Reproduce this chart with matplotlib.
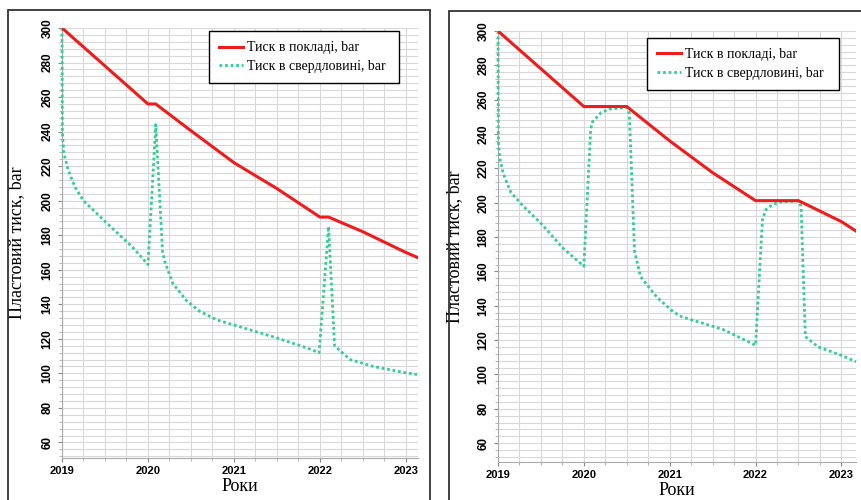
import matplotlib
matplotlib.use("Agg")
import matplotlib.pyplot as plt
from matplotlib.patches import Rectangle
from matplotlib.ticker import MultipleLocator

# left chart
res_years_a = [2019.0, 2019.5, 2020.0, 2020.09, 2020.5, 2021.0, 2021.5, 2022.0, 2022.1, 2022.5, 2023.0, 2023.14]
res_a = [300, 278, 256, 256, 240.5, 222, 207, 190.5, 190.5, 182, 170, 167]
well_years_a = [2019.0, 2019.004, 2019.02, 2019.07, 2019.15, 2019.25, 2019.5, 2019.83, 2020.0,
                2020.09, 2020.17, 2020.2, 2020.29, 2020.45, 2020.6, 2020.8, 2021.0, 2021.5,
                2021.85, 2021.99, 2022.1, 2022.17, 2022.35, 2022.62, 2023.0, 2023.14]
well_a = [300, 240, 228, 218, 208, 200, 188, 172.6, 163,
          244, 170, 164, 152, 142, 136, 131, 128, 120.5,
          114.7, 112, 185, 116, 108, 104, 100.3, 99.3]

# right chart
res_years_b = [2019.0, 2019.5, 2020.0, 2020.5, 2021.0, 2021.5, 2022.0, 2022.5, 2023.0, 2023.17]
res_b = [300, 278, 256, 256, 236, 217.5, 201.2, 201.2, 189, 183.5]
well_years_b = [2019.0, 2019.004, 2019.02, 2019.06, 2019.15, 2019.3, 2019.5, 2019.76, 2020.0,
                2020.08, 2020.1, 2020.2, 2020.3, 2020.5, 2020.53, 2020.59, 2020.66, 2020.85,
                2021.04, 2021.14, 2021.63, 2022.0, 2022.08, 2022.12, 2022.2, 2022.3, 2022.5,
                2022.53, 2022.58, 2022.73, 2022.99, 2023.17]
well_b = [300, 235, 226, 217, 206, 197.7, 188, 173.4, 163,
          243, 247, 252.5, 254.5, 255.5, 252, 172, 157, 145,
          136.5, 133.6, 126, 117, 190, 196, 199, 200.5, 201,
          198, 122, 116, 111.3, 107.4]

years = [2019, 2020, 2021, 2022, 2023]
label_res = "Тиск в покладі, bar"
label_well = "Тиск в свердловині, bar"
xlabel = "Роки"
ylabel = "Пластовий тиск, bar"

RED = "#ee1c1c"
GREEN = "#2fcf95"
W, H = 861, 500

fig = plt.figure(figsize=(8.61, 5.0), dpi=100)

# panel frames (pixel boxes)
for x0, y0, x1 in [(8, 10, 430), (449, 11, 875)]:
    fig.add_artist(Rectangle((x0 / W, -0.1), (x1 - x0) / W, 1.1 - y0 / H,
                             transform=fig.transFigure, fill=False,
                             edgecolor="#333333", linewidth=1.3))


def draw(rect, xs_r, ys_r, xs_w, ys_w, xmax, ymin, leg_box, ylab_x):
    ax = fig.add_axes(rect)
    ax.plot(xs_r, ys_r, color=RED, lw=2.2, label=label_res, zorder=4)
    ax.plot(xs_w, ys_w, color=GREEN, lw=2.0, ls=(0, (1, 1)), label=label_well,
            zorder=3, clip_on=False)
    ax.set_xlim(2019, xmax)
    ax.set_ylim(ymin, 300)
    ax.set_xticks(years)
    ax.set_xticklabels([str(y) for y in years])
    ax.xaxis.set_minor_locator(MultipleLocator(0.25))
    ax.set_yticks(range(60, 301, 20))
    ax.yaxis.set_minor_locator(MultipleLocator(4))
    ax.grid(which="both", color="#d8d8d8", lw=0.8)
    ax.set_axisbelow(True)
    for s in ["top", "right"]:
        ax.spines[s].set_visible(False)
    for s in ["left", "bottom"]:
        ax.spines[s].set_color("#aaaaaa")
        ax.spines[s].set_zorder(1)
    ax.tick_params(which="major", length=3, color="#888888", pad=3)
    ax.tick_params(which="minor", length=2, color="#aaaaaa")
    for t in ax.get_xticklabels():
        t.set_fontfamily("Liberation Sans")
        t.set_fontweight("bold")
        t.set_fontsize(8)
    for t in ax.get_yticklabels():
        t.set_fontfamily("Liberation Sans")
        t.set_fontweight("bold")
        t.set_fontsize(8.5)
        t.set_rotation(90)
        t.set_va("center")
    ax.set_xlabel(xlabel, fontfamily="Liberation Serif", fontsize=13, labelpad=1)
    ax.set_ylabel(ylabel, fontfamily="Liberation Serif", fontsize=13)
    ax.yaxis.set_label_coords(ylab_x, 0.5)
    leg = ax.legend(loc="upper left", bbox_to_anchor=leg_box, mode="expand",
                    prop={"family": "Liberation Serif", "size": 10},
                    fancybox=False, framealpha=1, edgecolor="black",
                    handlelength=1.7, handletextpad=0.3, borderpad=0.75,
                    labelspacing=0.4, borderaxespad=0)
    leg.get_frame().set_linewidth(1.0)
    leg.set_zorder(10)
    return ax


draw([62 / W, 1 - 458 / H, 356 / W, 430 / H], res_years_a, res_a, well_years_a, well_a,
     2023.14, 51, (0.413, 0.881, 0.534, 0.112), -(62 - 25) / 356)
draw([498 / W, 1 - 462 / H, 358 / W, 431 / H], res_years_b, res_b, well_years_b, well_b,
     2023.17, 49, (0.416, 0.872, 0.537, 0.112), -(498 - 463) / 358)

fig.savefig("out.png", dpi=100)
